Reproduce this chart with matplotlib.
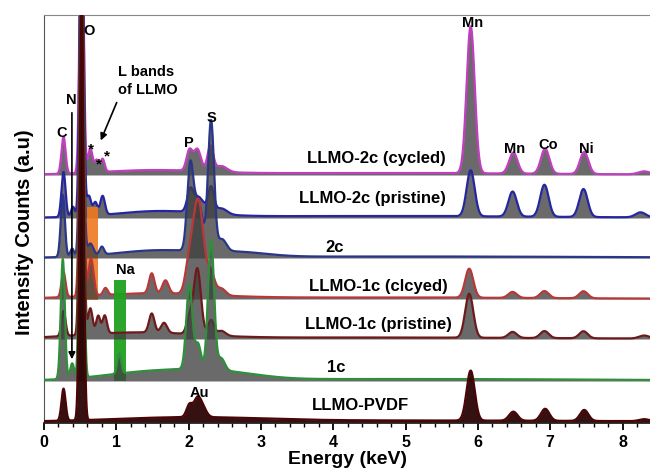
import numpy as np
import matplotlib
matplotlib.use("Agg")
import matplotlib.pyplot as plt
from matplotlib.patches import Rectangle

plt.rcParams['font.family'] = ['Liberation Sans', 'DejaVu Sans']
plt.rcParams['font.weight'] = 'bold'

# ---------------- data ----------------
labels = ["LLMO-2c (cycled)", "LLMO-2c (pristine)", "2c", "LLMO-1c (clcyed)",
          "LLMO-1c (pristine)", "1c", "LLMO-PVDF"]

# peak tables: (energy keV, height, width keV)
peaks_2c_cycled = [(0.27, 37, 0.028), (0.52, 300, 0.026), (0.64, 24, 0.032), (0.73, 12, 0.028),
                   (0.81, 13, 0.028), (2.01, 20, 0.04), (2.12, 22, 0.05), (2.30, 25, 0.04),
                   (2.45, 6, 0.08), (5.90, 147, 0.056), (6.49, 21, 0.058), (6.93, 25, 0.058),
                   (7.47, 22, 0.058), (8.30, 3, 0.08), (1.5, 4, 0.7), (4.5, 2, 2.5)]
peaks_2c_pristine = [(0.27, 45, 0.028), (0.40, 10, 0.025), (0.52, 350, 0.026), (0.62, 20, 0.032),
                     (0.71, 13, 0.028), (0.81, 19, 0.032), (2.02, 18, 0.04), (2.13, 16, 0.08),
                     (2.31, 25, 0.04), (2.45, 6, 0.08), (5.90, 46, 0.056), (6.48, 25, 0.058),
                     (6.92, 32, 0.058), (7.46, 28, 0.058), (8.25, 5, 0.07), (1.6, 6, 0.6),
                     (4.5, 2, 2.5)]
peaks_2c = [(0.26, 62, 0.028), (0.39, 8, 0.025), (0.52, 330, 0.026), (0.64, 12, 0.04),
            (0.80, 8, 0.03), (2.02, 80, 0.042), (2.13, 50, 0.06), (2.31, 130, 0.042),
            (2.46, 12, 0.06), (1.6, 7, 0.6), (2.7, 4, 0.4), (5.0, 1.5, 3.0)]
peaks_1c_cycled = [(0.27, 25, 0.028), (0.52, 380, 0.026), (0.65, 37, 0.035), (0.85, 7, 0.03),
                   (1.49, 20, 0.037), (1.68, 13, 0.042), (2.00, 22, 0.05), (2.13, 95, 0.075),
                   (2.31, 20, 0.05), (2.45, 7, 0.06), (5.88, 29, 0.056), (6.48, 6, 0.058),
                   (6.92, 7, 0.058), (7.46, 7, 0.058), (1.5, 5, 0.8), (4.5, 1.5, 2.5)]
peaks_1c_pristine = [(0.27, 25, 0.028), (0.52, 400, 0.026), (0.64, 26, 0.032), (0.75, 18, 0.028),
                     (0.84, 18, 0.03), (1.49, 19, 0.037), (1.66, 10, 0.042), (2.01, 15, 0.04),
                     (2.12, 66, 0.05), (2.31, 15, 0.04), (2.45, 5, 0.06), (5.88, 44, 0.056),
                     (6.48, 6, 0.058), (6.92, 7, 0.058), (7.46, 7, 0.058), (8.30, 3, 0.07),
                     (1.3, 6, 0.8), (4.5, 1.5, 2.5)]
peaks_1c = [(0.26, 120, 0.028), (0.39, 15, 0.026), (0.52, 420, 0.026), (1.04, 20, 0.027),
            (2.01, 84, 0.042), (2.13, 25, 0.04), (2.31, 130, 0.042), (2.45, 12, 0.05),
            (1.6, 9, 0.7), (2.5, 5, 0.5), (5.0, 2, 3.0)]
peaks_pvdf = [(0.27, 32, 0.028), (0.52, 450, 0.026), (2.01, 12, 0.04), (2.12, 18, 0.05),
              (2.20, 8, 0.05), (5.90, 50, 0.056), (6.49, 9, 0.058), (6.93, 12, 0.058),
              (7.47, 11, 0.058), (8.30, 2, 0.07), (2.0, 4, 1.0), (5.0, 1.5, 3.0)]

all_peaks = [peaks_2c_cycled, peaks_2c_pristine, peaks_2c, peaks_1c_cycled,
             peaks_1c_pristine, peaks_1c, peaks_pvdf]

# element annotations: (text, energy, level)
element_labels = [("O", 0.62, 392), ("N", 0.38, 323), ("C", 0.25, 290),
                  ("P", 2.00, 280), ("S", 2.32, 305), ("Mn", 5.93, 400),
                  ("Mn", 6.51, 274), ("Co", 6.97, 278), ("Ni", 7.50, 274),
                  ("Na", 1.12, 153), ("Au", 2.15, 30)]

# ---------------- layout / style ----------------
offsets = [248, 205, 165, 124, 84, 42, 1]
edge_colors = ['#c03fc0', '#2626a0', '#2a3688', '#b83838', '#6e1a1a', '#2f8f3a', '#4a0606']
fill_colors = ['#404040'] * 6 + ['#2a0404']
label_pos = [(3.64, 264), (3.53, 224), (3.89, 175), (3.67, 137), (3.61, 99), (3.92, 56), (3.70, 17)]

E = np.linspace(0, 8.4, 4000)


def spectrum(peaks):
    y = np.zeros_like(E)
    for c, h, w in peaks:
        y += h * np.exp(-0.5 * ((E - c) / w) ** 2)
    return y


fig = plt.figure(figsize=(6.5, 4.71), dpi=100)
ax = fig.add_axes([44 / 650, 1 - 423 / 471, 1 - 44 / 650, (423 - 15) / 471])

for i, (pk, off) in enumerate(zip(all_peaks, offsets)):
    y = spectrum(pk)
    z = 1 + i
    ax.fill_between(E, off, off + y, color=fill_colors[i], alpha=0.78 if i < 6 else 0.95,
                    lw=0, zorder=z)
    ax.plot(E, off + y, color=edge_colors[i], lw=1.6, zorder=z + 0.1)
    ax.text(label_pos[i][0], label_pos[i][1], labels[i], fontsize=12, fontweight='bold',
            ha='left', va='center', zorder=20)

# highlighted regions
ax.add_patch(Rectangle((0.59, 123), 0.15, 93, facecolor='#f07820', edgecolor='none',
                       alpha=0.9, zorder=2.5))
ax.add_patch(Rectangle((0.97, 42), 0.16, 101, facecolor='#1fa01f', edgecolor='none',
                       alpha=0.95, zorder=4.5))

for t, x, yv in element_labels:
    ax.text(x, yv, t, fontsize=10.5, fontweight='bold', ha='center', va='center', zorder=20)

# asterisks
for x, yv in [(0.65, 274), (0.76, 259), (0.87, 267)]:
    ax.text(x, yv, "*", fontsize=11, fontweight='bold', ha='center', va='center', zorder=20)

ax.text(1.02, 342, "L bands\nof LLMO", fontsize=10.5, fontweight='bold', ha='left',
        va='center', linespacing=1.45, zorder=20)
ax.annotate("", xy=(0.77, 280), xytext=(1.02, 323),
            arrowprops=dict(arrowstyle='-|>', color='black', lw=1.2, mutation_scale=10),
            zorder=20)
ax.annotate("", xy=(0.386, 61), xytext=(0.386, 313),
            arrowprops=dict(arrowstyle='-|>', color='black', lw=1.2, mutation_scale=10),
            zorder=20)

ax.set_xlim(0, 8.38)
ax.set_ylim(0, 408)
ax.set_yticks([])
ax.set_xticks(range(0, 9))
ax.set_xticks(np.arange(0, 8.4, 0.2), minor=True)
ax.tick_params(axis='x', which='major', direction='out', length=5, width=1.3, labelsize=11.5)
ax.tick_params(axis='x', which='minor', direction='out', length=3, width=1.0)
for lab in ax.get_xticklabels():
    lab.set_fontweight('bold')
ax.spines['right'].set_visible(False)
ax.spines['top'].set_color('#888888')
ax.spines['left'].set_color('#555555')
ax.spines['bottom'].set_color('#222222')
ax.spines['bottom'].set_linewidth(1.3)

ax.set_xlabel("Energy (keV)", fontsize=14, fontweight='bold', labelpad=1)
fig.text(25 / 650, 1 - 232 / 471, "Intensity Counts (a.u)", fontsize=14.5, fontweight='bold',
         rotation=90, ha='center', va='center')

fig.savefig("out.png", dpi=100)
